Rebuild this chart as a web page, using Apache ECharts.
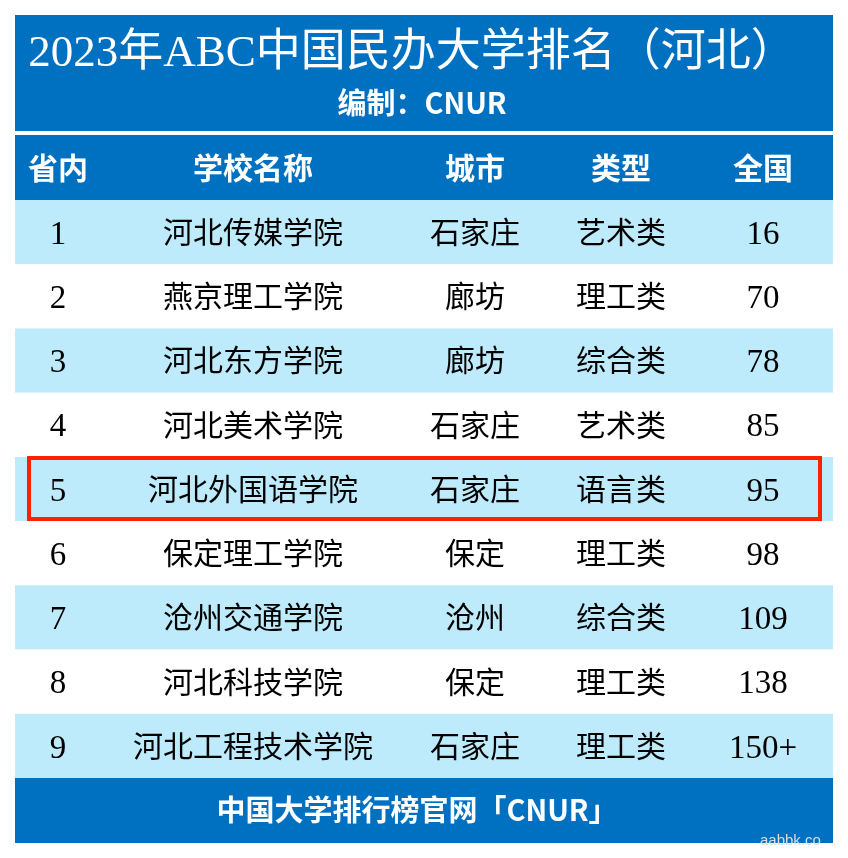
<!DOCTYPE html>
<html><head><meta charset="utf-8">
<script src="https://cdn.jsdelivr.net/npm/echarts@6/dist/echarts.min.js"></script>
<style>html,body{margin:0;padding:0;background:#fff}#c{width:848px;height:858px}</style>
</head><body><div id="c"></div>
<script>
const title = '2023年ABC中国民办大学排名（河北）';
const subtitle = '编制：CNUR';
const footer = '中国大学排行榜官网「CNUR」';
const headers = ['省内', '学校名称', '城市', '类型', '全国'];
const ranks = ['1', '2', '3', '4', '5', '6', '7', '8', '9'];
const schools = ['河北传媒学院', '燕京理工学院', '河北东方学院', '河北美术学院', '河北外国语学院', '保定理工学院', '沧州交通学院', '河北科技学院', '河北工程技术学院'];
const cities = ['石家庄', '廊坊', '廊坊', '石家庄', '石家庄', '保定', '沧州', '保定', '石家庄'];
const types = ['艺术类', '理工类', '综合类', '艺术类', '语言类', '理工类', '综合类', '理工类', '理工类'];
const national = ['16', '70', '78', '85', '95', '98', '109', '138', '150+'];
const highlightRank = '5';

// column centres along a 0..818 value axis
const colCenters = [43, 238, 460, 606, 748];
const DARK = '#0070C0', LIGHT = '#BDEBFB';
const bodyFont = '"Liberation Serif","Noto Sans CJK SC",serif';
const boldFont = '"Noto Sans CJK SC",sans-serif';

const chart = echarts.init(document.getElementById('c'));
const rows = ranks.map((r, i) => [i, r, schools[i], cities[i], types[i], national[i]]);

chart.setOption({
  animation: false,
  grid: { left: 15, right: 15, top: 200, bottom: 80 },
  xAxis: { type: 'value', min: 0, max: 818, show: false },
  yAxis: { type: 'category', data: ranks, inverse: true, show: false },
  graphic: [
    { type: 'rect', shape: { x: 15, y: 15, width: 818, height: 116 }, style: { fill: DARK } },
    { type: 'text', x: 412, y: 54, style: { text: title, fill: '#fff', font: '45px ' + bodyFont, textAlign: 'center', textVerticalAlign: 'middle' } },
    { type: 'text', x: 422, y: 103, style: { text: subtitle, fill: '#fff', font: 'bold 29px ' + boldFont, textAlign: 'center', textVerticalAlign: 'middle' } },
    { type: 'rect', shape: { x: 15, y: 135, width: 818, height: 65 }, style: { fill: DARK } },
    ...headers.map((h, i) => ({ type: 'text', x: 15 + colCenters[i], y: 168, style: { text: h, fill: '#fff', font: 'bold 30px ' + boldFont, textAlign: 'center', textVerticalAlign: 'middle' } })),
    { type: 'rect', shape: { x: 15, y: 778, width: 818, height: 65 }, style: { fill: DARK } },
    { type: 'text', x: 417, y: 810, style: { text: footer, fill: '#fff', font: 'bold 29px ' + boldFont, textAlign: 'center', textVerticalAlign: 'middle' } },
    { type: 'text', x: 760, y: 833, style: { text: 'aabbk.co', fill: '#ddd', font: '15px sans-serif' } }
  ],
  series: [{
    type: 'custom',
    data: rows,
    encode: { y: 0 },
    renderItem: function (params, api) {
      const idx = api.value(0);
      const c = api.coord([0, idx]);
      const h = api.size([0, 1])[1];
      const w = api.size([818, 0])[0];
      const left = api.coord([0, 0])[0];
      const top = c[1] - h / 2;
      const children = [{ type: 'rect', shape: { x: left, y: top, width: w, height: h }, style: { fill: idx % 2 === 0 ? LIGHT : '#fff' } }];
      for (let k = 0; k < 5; k++) {
        const x = api.coord([colCenters[k], idx])[0];
        const numeric = k === 0 || k === 4;
        children.push({ type: 'text', x: x, y: c[1] + 3, style: { text: rows[idx][k + 1], fill: '#000', font: (numeric ? '33px ' : '30px ') + bodyFont, textAlign: 'center', textVerticalAlign: 'middle' } });
      }
      if (rows[idx][1] === highlightRank) {
        children.push({ type: 'rect', shape: { x: left + 14, y: top + 1, width: w - 27, height: h - 3 }, style: { fill: 'none', stroke: '#FF2000', lineWidth: 4 } });
      }
      return { type: 'group', children: children };
    }
  }]
});
</script></body></html>
